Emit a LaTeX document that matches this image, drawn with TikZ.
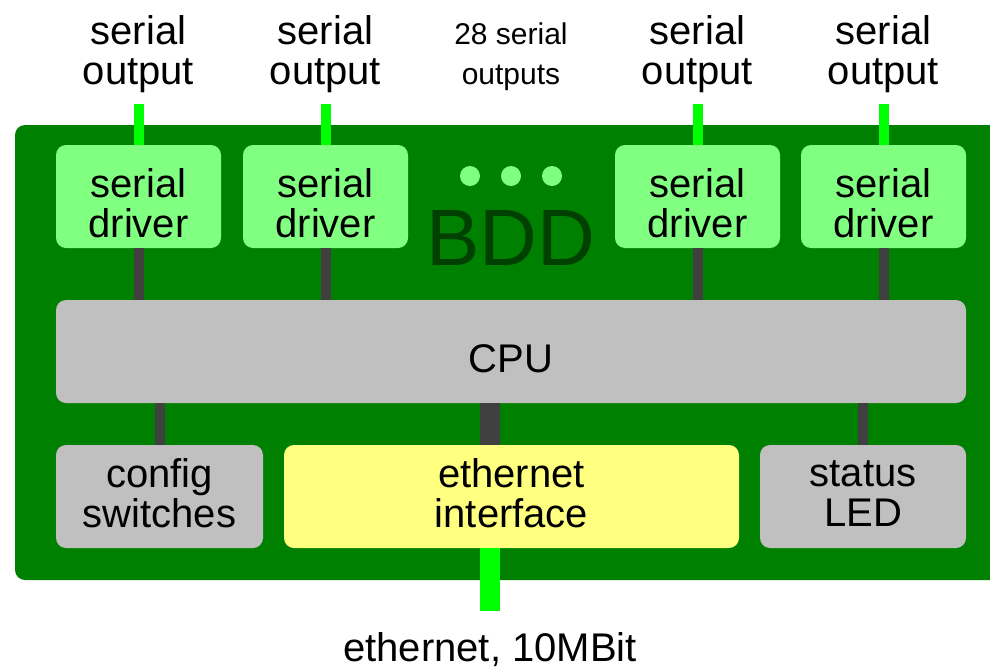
\documentclass[tikz,border=0pt]{standalone}
\usepackage{fontspec}
\setmainfont{Liberation Sans}
\usepackage{xcolor}
\usepackage{tikz}

\definecolor{boardgreen}{RGB}{0,128,0}
\definecolor{bddgreen}{RGB}{0,64,0}
\definecolor{drvgreen}{RGB}{128,255,128}
\definecolor{linkgreen}{RGB}{0,255,0}
\definecolor{busgrey}{RGB}{64,64,64}
\definecolor{boxgrey}{RGB}{192,192,192}
\definecolor{ethyellow}{RGB}{255,255,128}

\newcommand{\boxstrut}{\rule{0pt}{32.5pt}}
\newcommand{\lowstrut}{\rule[-4.5pt]{0pt}{4.5pt}}

\tikzset{
  block/.style={rounded corners=7.5pt, inner sep=0pt, align=center, minimum height=77.25pt,
    font=\fontsize{30}{30}\selectfont},
  drvbox/.style={block, fill=drvgreen, minimum width=123.75pt},
  greybox/.style={block, fill=boxgrey},
  outlabel/.style={align=center, inner xsep=0pt, inner ysep=8pt, anchor=south, font=\fontsize{30}{30}\selectfont},
  bus/.style={draw=busgrey, line width=7.5pt},
  link/.style={draw=linkgreen, line width=7.5pt}
}

\begin{document}
\begin{tikzpicture}[x=0.75pt,y=0.75pt,yscale=-1,xscale=1]
\useasboundingbox (0,0) rectangle (990,668);

%Shape: Board
\fill[boardgreen, rounded corners=7.5pt] (15,125) rectangle (1010,580);

% Text Node
\node[text=bddgreen, font=\fontsize{60}{60}\selectfont, inner sep=0pt] (bdd) at (511,238) {BDD};
%Dots
\foreach \x in {470,511,552}
  \fill[drvgreen] (\x,176) circle (7.5pt);

%Serial drivers
\node[drvbox] (drv1) at (138.5,196.5) {\boxstrut serial\\driver};
\node[drvbox] (drv2) at (325.5,196.5) {\boxstrut serial\\driver};
\node[drvbox] (drv3) at (697.5,196.5) {\boxstrut serial\\driver};
\node[drvbox] (drv4) at (883.5,196.5) {\boxstrut serial\\driver};

%CPU
\node[greybox, minimum width=682.5pt] (cpu) at (511,351.5) {\boxstrut CPU};

%Bottom row
\node[greybox, minimum width=155.25pt] (cfg) at (159.5,496.5) {config\\switches\lowstrut};
\node[block, fill=ethyellow, minimum width=341.25pt] (eth) at (511.5,496.5) {ethernet\\interface\lowstrut};
\node[greybox, minimum width=154.5pt] (led) at (863,496.5) {status\\LED\lowstrut};

% Text Node
\node[outlabel] (out1) at (138.5,104) {serial\\output};
\node[outlabel] (out2) at (325.5,104) {serial\\output};
\node[outlabel, font=\fontsize{22.5}{30}\selectfont, inner ysep=9.8pt] (outn) at (511,104) {28 serial\\outputs};
\node[outlabel] (out3) at (697.5,104) {serial\\output};
\node[outlabel] (out4) at (883.5,104) {serial\\output};
\node[font=\fontsize{30}{30}\selectfont, anchor=north, inner xsep=0pt, inner ysep=16pt] (net) at (490,611) {ethernet, 10MBit};

%Straight Lines
\foreach \i in {1,...,4} {
  \draw[link] (drv\i.north) -- (out\i.south);
  \draw[bus] (drv\i.south) -- (drv\i.south |- cpu.north);
}
\draw[bus] (cfg.north) -- (cfg.north |- cpu.south);
\draw[bus] (led.north) -- (led.north |- cpu.south);
\draw[bus, line width=15pt] (net.north |- eth.north) -- (net.north |- cpu.south);
\draw[link, line width=15pt] (net.north |- eth.south) -- (net.north);

\end{tikzpicture}
\end{document}
